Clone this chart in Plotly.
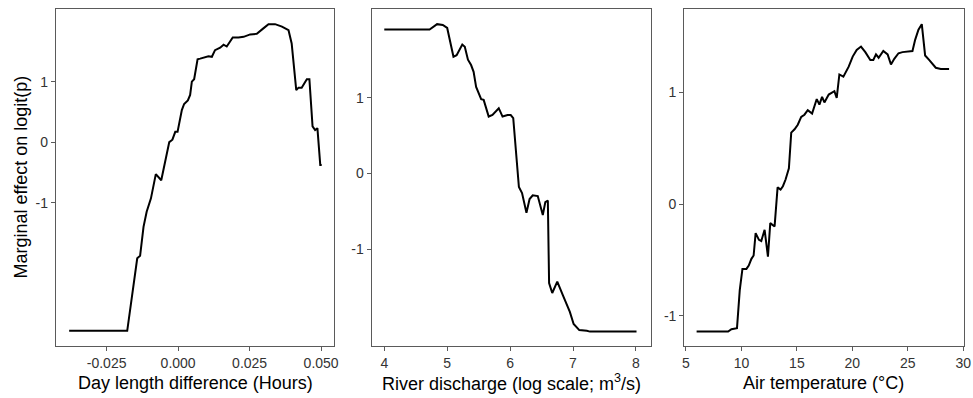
import plotly.graph_objects as go

# ---- Data ----
day_x = [-0.0381, -0.0178, -0.0143, -0.0133, -0.0121, -0.0110, -0.0095, -0.0084, -0.0078,
         -0.0059, -0.0040, -0.0031, -0.0020, -0.0010, -0.0002, 0.0013, 0.0021, 0.0034,
         0.0042, 0.0048, 0.0056, 0.0068, 0.0077, 0.0106, 0.0118, 0.0129, 0.0147, 0.0159,
         0.0170, 0.0191, 0.0211, 0.0229, 0.0252, 0.0275, 0.0298, 0.0316, 0.0339, 0.0363,
         0.0386, 0.0397, 0.0413, 0.0421, 0.0432, 0.0450, 0.0459, 0.0470, 0.0479, 0.0487,
         0.0497, 0.0502]
day_y = [-3.12, -3.12, -1.92, -1.88, -1.40, -1.15, -0.93, -0.63, -0.53,
         -0.63, -0.16, 0.00, 0.04, 0.17, 0.17, 0.53, 0.63, 0.69,
         0.78, 1.00, 1.04, 1.37, 1.38, 1.42, 1.41, 1.52, 1.56, 1.61,
         1.58, 1.73, 1.73, 1.74, 1.78, 1.79, 1.88, 1.95, 1.95, 1.91,
         1.85, 1.63, 0.86, 0.90, 0.90, 1.04, 1.04, 0.26, 0.20, 0.23,
         -0.38, -0.38]

riv_x = [4.00, 4.62, 4.72, 4.84, 4.93, 5.00, 5.10, 5.15, 5.24, 5.28, 5.33, 5.38, 5.42,
         5.46, 5.54, 5.58, 5.66, 5.72, 5.82, 5.88, 5.96, 6.01, 6.05, 6.14, 6.19, 6.26,
         6.31, 6.36, 6.44, 6.52, 6.56, 6.60, 6.62, 6.67, 6.75, 6.84, 6.90, 6.95, 7.01,
         7.10, 7.22, 7.27, 8.01]
riv_y = [1.90, 1.90, 1.90, 1.97, 1.96, 1.92, 1.54, 1.56, 1.70, 1.67, 1.50, 1.43, 1.34,
         1.14, 0.98, 0.97, 0.75, 0.77, 0.86, 0.75, 0.77, 0.77, 0.73, -0.18, -0.26, -0.52,
         -0.34, -0.29, -0.30, -0.55, -0.38, -0.36, -1.45, -1.58, -1.43, -1.61, -1.73, -1.83, -1.99,
         -2.07, -2.08, -2.09, -2.09]

air_x = [5.96, 8.80, 9.10, 9.60, 9.85, 10.09, 10.45, 10.66, 10.90, 11.10, 11.28, 11.58,
         11.79, 12.09, 12.39, 12.60, 12.99, 13.26, 13.53, 13.74, 13.98, 14.28, 14.49, 14.79,
         15.08, 15.39, 15.68, 15.98, 16.37, 16.79, 17.03, 17.27, 17.48, 17.87, 18.38, 18.59,
         18.83, 19.19, 19.67, 20.03, 20.39, 20.78, 21.17, 21.62, 21.89, 22.13, 22.37, 22.79,
         23.18, 23.48, 23.78, 24.16, 24.52, 25.42, 25.66, 25.96, 26.26, 26.56, 26.92, 27.52,
         27.97, 28.72]
air_y = [-1.14, -1.14, -1.12, -1.11, -0.77, -0.58, -0.58, -0.55, -0.49, -0.46, -0.26, -0.32,
         -0.33, -0.23, -0.47, -0.17, -0.20, 0.15, 0.13, 0.16, 0.22, 0.32, 0.64, 0.67,
         0.71, 0.78, 0.80, 0.84, 0.81, 0.94, 0.89, 0.96, 0.91, 0.98, 1.01, 0.95,
         1.16, 1.14, 1.23, 1.32, 1.38, 1.41, 1.36, 1.29, 1.29, 1.34, 1.31, 1.37,
         1.34, 1.25, 1.30, 1.35, 1.36, 1.37, 1.47, 1.56, 1.61, 1.33, 1.29, 1.22,
         1.21, 1.21]

day_ticks = [-0.025, 0.0, 0.025, 0.05]
day_labels = ["-0.025", "0.000", "0.025", "0.050"]
riv_ticks = [4, 5, 6, 7, 8]
riv_labels = ["4", "5", "6", "7", "8"]
air_ticks = [5, 10, 15, 20, 25, 30]
air_labels = ["5", "10", "15", "20", "25", "30"]
y_ticks = [-1, 0, 1]
y_labels = ["-1", "0", "1"]

x_titles = ["Day length difference (Hours)",
            "River discharge (log scale; m<sup>3</sup>/s)",
            "Air temperature (°C)"]
y_title = "Marginal effect on logit(p)"

# ---- Figure ----
W, H = 973, 398
TOP, BOT = 9, 346
PH = BOT - TOP
FONT = "Liberation Sans, Arial, sans-serif"
fig = go.Figure()

series = [(day_x, day_y), (riv_x, riv_y), (air_x, air_y)]
for i, (xs, ys) in enumerate(series):
    sfx = "" if i == 0 else str(i + 1)
    fig.add_trace(go.Scatter(x=xs, y=ys, mode="lines",
                             line=dict(color="black", width=2),
                             xaxis="x" + sfx, yaxis="y" + sfx,
                             showlegend=False, hoverinfo="skip"))

doms = [(56, 334), (371.7, 651), (684.3, 963.5)]
xranges = [[-0.0427, 0.0545], [3.80, 8.24], [4.85, 30.02]]
yranges = [[-3.37, 2.2], [-2.28, 2.17], [-1.27, 1.746]]
xt = [(day_ticks, day_labels), (riv_ticks, riv_labels), (air_ticks, air_labels)]

axis_common = dict(showgrid=False, zeroline=False, showline=True, mirror=True,
                   linecolor="#5a5a5a", linewidth=1.3, ticks="outside", ticklen=4,
                   tickcolor="#5a5a5a", tickwidth=1, automargin=False,
                   ticklabeloverflow="allow",
                   tickfont=dict(family=FONT, size=14, color="#333333"))

for i in range(3):
    sfx = "" if i == 0 else str(i + 1)
    fig.update_layout(**{
        "xaxis" + sfx: dict(axis_common,
                            domain=[doms[i][0] / W, doms[i][1] / W],
                            range=xranges[i], anchor="y" + sfx,
                            tickmode="array", tickvals=xt[i][0], ticktext=xt[i][1]),
        "yaxis" + sfx: dict(axis_common, domain=[0, 1], range=yranges[i],
                            anchor="x" + sfx,
                            tickmode="array", tickvals=y_ticks, ticktext=y_labels),
    })
    fig.add_annotation(text=x_titles[i], x=(doms[i][0] + doms[i][1]) / 2 / W,
                       y=-(383 - BOT) / PH, xref="paper", yref="paper",
                       xanchor="center", yanchor="middle", showarrow=False,
                       font=dict(family=FONT, size=18, color="black"))

fig.add_annotation(text=y_title, textangle=-90, x=20 / W, y=0.5,
                   xref="paper", yref="paper", xanchor="center", yanchor="middle",
                   showarrow=False, font=dict(family=FONT, size=18, color="black"))

fig.update_layout(width=W, height=H, margin=dict(l=0, r=0, t=TOP, b=H - BOT),
                  paper_bgcolor="white", plot_bgcolor="white",
                  font=dict(family=FONT))

# remove the default page margin so the figure fills the window exactly
fig.write_html("out.html",
               config={"displayModeBar": False},
               post_script="document.body.style.margin='0';"
                           "document.body.style.overflow='hidden';")
